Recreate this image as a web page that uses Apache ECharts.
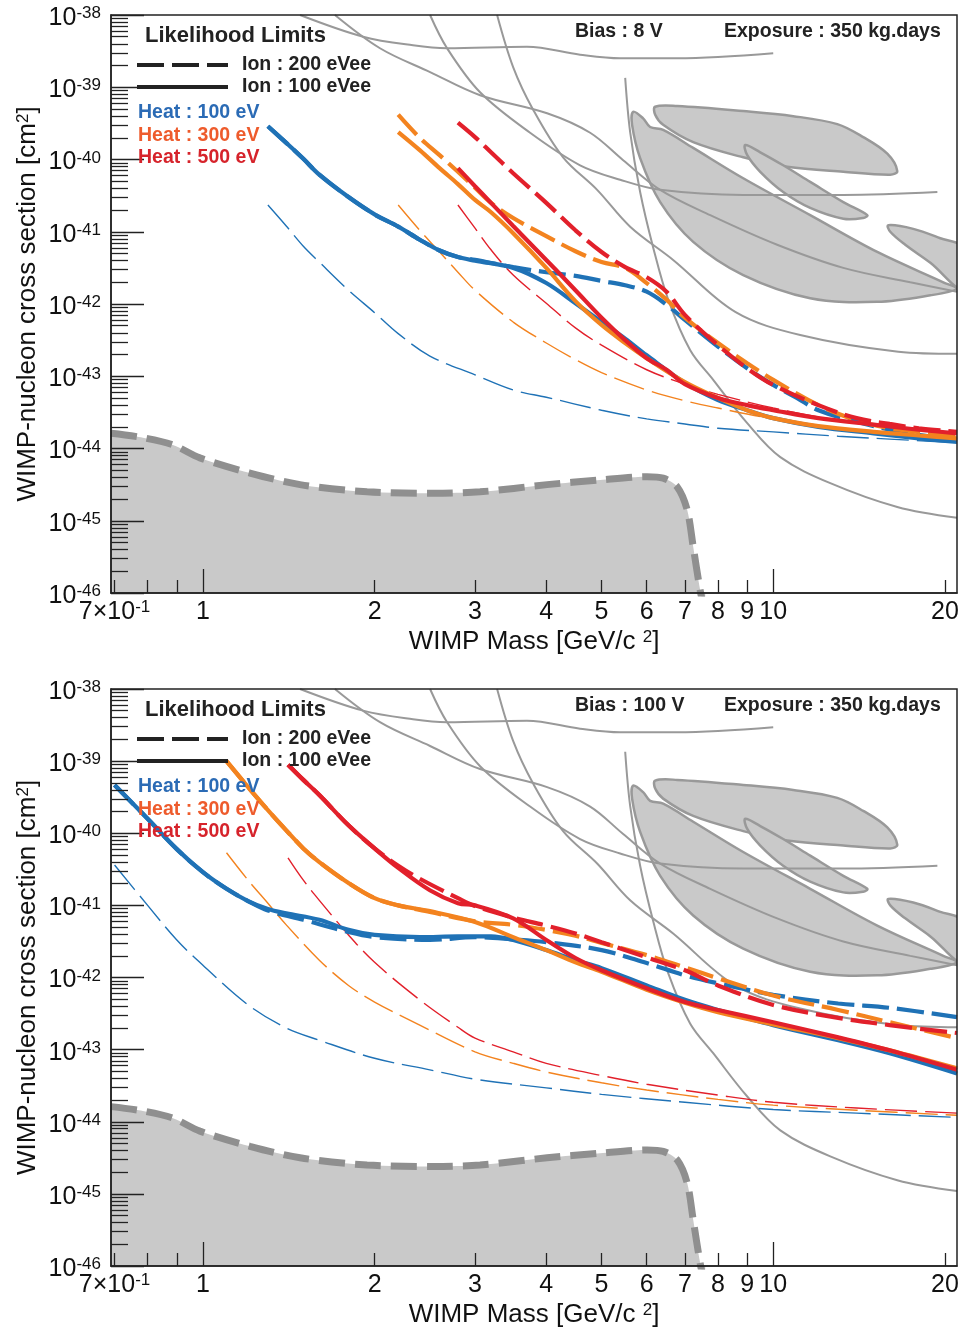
<!DOCTYPE html>
<html>
<head>
<meta charset="utf-8">
<script src="https://cdn.jsdelivr.net/npm/echarts@6/dist/echarts.min.js"></script>
<style>html,body{margin:0;padding:0;background:#fff}#chart{width:960px;height:1334px}</style>
</head>
<body>
<div id="chart"></div>
<script>
// ---------------- DATA: [WIMP mass (GeV/c^2), log10(cross section / cm^2)] ----------------
// Panel 1 : Bias 8 V
const p1Blue100 = [[1.3,-39.54],[1.4,-39.77],[1.5,-39.99],[1.6,-40.21],[1.8,-40.52],[2.0,-40.76],[2.2,-40.93],[2.4,-41.11],[2.6,-41.26],[2.8,-41.35],[3.0,-41.40],[3.5,-41.50],[4.0,-41.71],[4.5,-41.99],[5.0,-42.25],[5.5,-42.48],[6.0,-42.71],[7.0,-43.09],[8.0,-43.33],[9.0,-43.47],[10,-43.58],[12,-43.70],[15,-43.79],[18,-43.86],[21,-43.91]];
const p1Blue200 = [[1.3,-39.54],[1.4,-39.77],[1.5,-39.99],[1.6,-40.21],[1.8,-40.52],[2.0,-40.76],[2.2,-40.93],[2.4,-41.11],[2.6,-41.26],[2.8,-41.35],[3.0,-41.39],[3.5,-41.49],[4.0,-41.56],[4.5,-41.61],[5.0,-41.68],[5.5,-41.74],[6.0,-41.83],[6.5,-42.01],[7.0,-42.22],[8.0,-42.59],[9.0,-42.89],[10,-43.12],[11,-43.30],[12,-43.47],[14,-43.63],[16,-43.74],[18,-43.81],[21,-43.88]];
const p1Orange100 = [[2.2,-39.62],[2.4,-39.87],[2.6,-40.12],[2.8,-40.34],[3.0,-40.56],[3.2,-40.73],[3.5,-41.02],[4.0,-41.50],[4.5,-41.96],[5.0,-42.29],[5.5,-42.54],[6.0,-42.75],[7.0,-43.08],[8.0,-43.30],[9.0,-43.47],[10,-43.58],[12,-43.69],[15,-43.77],[18,-43.82],[21,-43.86]];
const p1Orange200 = [[2.2,-39.38],[2.4,-39.70],[2.6,-39.94],[2.8,-40.17],[3.0,-40.39],[3.2,-40.60],[3.5,-40.81],[4.0,-41.06],[4.5,-41.27],[5.0,-41.42],[5.5,-41.50],[6.0,-41.71],[6.5,-41.94],[7.0,-42.19],[8.0,-42.54],[9.0,-42.82],[10,-43.05],[12,-43.40],[14,-43.61],[16,-43.72],[18,-43.77],[21,-43.84]];
const p1Red100 = [[2.8,-40.12],[3.0,-40.37],[3.2,-40.60],[3.5,-40.92],[4.0,-41.39],[4.5,-41.81],[5.0,-42.19],[5.5,-42.50],[6.0,-42.75],[6.5,-42.91],[7.0,-43.11],[8.0,-43.30],[9.0,-43.40],[10,-43.47],[12,-43.58],[15,-43.67],[18,-43.74],[21,-43.79]];
const p1Red200 = [[2.8,-39.49],[3.0,-39.69],[3.2,-39.90],[3.5,-40.19],[4.0,-40.60],[4.5,-40.98],[5.0,-41.28],[5.5,-41.49],[6.0,-41.63],[6.5,-41.83],[7.0,-42.15],[8.0,-42.57],[9.0,-42.89],[10,-43.12],[12,-43.40],[14,-43.58],[16,-43.66],[18,-43.72],[21,-43.77]];
const p1BlueThin = [[1.3,-40.63],[1.4,-40.92],[1.5,-41.20],[1.6,-41.42],[1.8,-41.81],[2.0,-42.12],[2.2,-42.41],[2.5,-42.72],[3.0,-42.98],[3.5,-43.19],[4.0,-43.29],[5.0,-43.47],[6.0,-43.59],[7.0,-43.66],[8.0,-43.72],[10,-43.77],[13,-43.83],[16,-43.87],[21,-43.92]];
const p1OrangeThin = [[2.2,-40.63],[2.4,-40.98],[2.6,-41.28],[2.8,-41.56],[3.0,-41.81],[3.5,-42.25],[4.0,-42.54],[4.5,-42.77],[5.0,-42.95],[6.0,-43.19],[7.0,-43.34],[8.0,-43.44],[10,-43.59],[13,-43.73],[16,-43.80],[21,-43.88]];
const p1RedThin = [[2.8,-40.63],[3.0,-40.95],[3.2,-41.25],[3.5,-41.60],[4.0,-41.99],[4.5,-42.33],[5.0,-42.57],[6.0,-42.91],[7.0,-43.11],[8.0,-43.25],[10,-43.44],[13,-43.61],[16,-43.70],[21,-43.79]];

// Panel 2 : Bias 100 V
const p2Blue100 = [[0.7,-39.33],[0.8,-39.80],[0.9,-40.22],[1.0,-40.54],[1.1,-40.77],[1.2,-40.94],[1.3,-41.05],[1.4,-41.11],[1.6,-41.20],[1.8,-41.34],[2.0,-41.41],[2.4,-41.44],[2.8,-41.43],[3.2,-41.43],[3.5,-41.48],[4.0,-41.62],[4.5,-41.76],[5.0,-41.87],[6.0,-42.11],[7.0,-42.31],[8.0,-42.45],[10,-42.66],[13,-42.87],[16,-43.05],[21,-43.33]];
const p2Blue200 = [[0.7,-39.33],[0.8,-39.80],[0.9,-40.22],[1.0,-40.54],[1.1,-40.77],[1.2,-40.94],[1.3,-41.07],[1.5,-41.20],[1.8,-41.37],[2.0,-41.44],[2.5,-41.48],[3.0,-41.44],[3.5,-41.47],[4.0,-41.51],[5.0,-41.62],[6.0,-41.80],[7.0,-41.97],[8.0,-42.08],[10,-42.24],[13,-42.36],[16,-42.42],[21,-42.55]];
const p2Orange100 = [[1.1,-39.00],[1.2,-39.36],[1.3,-39.68],[1.4,-39.96],[1.5,-40.21],[1.6,-40.40],[1.8,-40.69],[2.0,-40.90],[2.2,-41.00],[2.5,-41.08],[3.0,-41.23],[3.5,-41.44],[4.0,-41.62],[4.5,-41.79],[5.0,-41.92],[6.0,-42.17],[7.0,-42.35],[8.0,-42.48],[10,-42.65],[13,-42.84],[16,-43.01],[21,-43.26]];
const p2Orange200 = [[1.1,-39.00],[1.2,-39.36],[1.3,-39.68],[1.4,-39.96],[1.5,-40.21],[1.6,-40.40],[1.8,-40.69],[2.0,-40.90],[2.2,-41.00],[2.5,-41.09],[3.0,-41.22],[3.5,-41.27],[4.0,-41.34],[4.5,-41.42],[5.0,-41.52],[6.0,-41.69],[7.0,-41.86],[8.0,-42.01],[10,-42.25],[13,-42.45],[16,-42.62],[21,-42.84]];
const p2Red100 = [[1.41,-39.05],[1.5,-39.26],[1.6,-39.47],[1.8,-39.89],[2.0,-40.21],[2.2,-40.48],[2.5,-40.79],[2.8,-40.97],[3.0,-41.00],[3.5,-41.18],[4.0,-41.48],[4.5,-41.73],[5.0,-41.90],[6.0,-42.15],[7.0,-42.34],[8.0,-42.45],[10,-42.62],[13,-42.83],[16,-43.01],[21,-43.28]];
const p2Red200 = [[1.41,-39.05],[1.5,-39.26],[1.6,-39.47],[1.8,-39.89],[2.0,-40.21],[2.2,-40.45],[2.4,-40.63],[2.8,-40.90],[3.0,-41.01],[3.5,-41.17],[4.0,-41.28],[4.5,-41.39],[5.0,-41.51],[6.0,-41.72],[7.0,-41.90],[8.0,-42.11],[10,-42.38],[13,-42.56],[16,-42.66],[21,-42.77]];
const p2BlueThin = [[0.7,-40.44],[0.8,-41.00],[0.9,-41.48],[1.0,-41.83],[1.2,-42.38],[1.4,-42.70],[1.6,-42.87],[2.0,-43.12],[2.5,-43.28],[3.0,-43.41],[4.0,-43.53],[5.0,-43.62],[7.0,-43.73],[10,-43.83],[14,-43.88],[21,-43.94]];
const p2OrangeThin = [[1.1,-40.27],[1.2,-40.65],[1.3,-40.97],[1.4,-41.27],[1.6,-41.76],[1.8,-42.11],[2.0,-42.34],[2.4,-42.66],[3.0,-43.03],[3.5,-43.19],[4.0,-43.31],[5.0,-43.46],[6.0,-43.56],[8.0,-43.69],[10,-43.77],[14,-43.84],[21,-43.91]];
const p2RedThin = [[1.41,-40.34],[1.5,-40.65],[1.6,-40.93],[1.8,-41.41],[2.0,-41.79],[2.4,-42.31],[2.8,-42.69],[3.0,-42.84],[3.5,-43.03],[4.0,-43.19],[5.0,-43.36],[6.0,-43.48],[8.0,-43.63],[10,-43.73],[14,-43.81],[21,-43.88]];

// Other experiments (grey, same in both panels)
const grayA = [[1.48,-38.0],[1.909,-38.30],[2.335,-38.42],[2.68,-38.46],[3.70,-38.44],[4.585,-38.55],[5.39,-38.60],[6.785,-38.60],[10.0,-38.53]];
const grayB = [[1.704,-38.0],[2.044,-38.46],[2.502,-38.79],[3.062,-39.11],[4.013,-39.36],[4.775,-39.63],[5.456,-40.01],[6.336,-40.42],[7.754,-40.77],[10.16,-41.18],[13.27,-41.50],[17.39,-41.70],[21.0,-41.83]];
const grayC = [[2.502,-38.0],[2.68,-38.46],[3.062,-39.07],[3.747,-39.63],[4.585,-40.08],[5.39,-40.28],[6.336,-40.42],[8.859,-40.49],[13.27,-40.49],[19.4,-40.45]];
const grayD = [[3.28,-38.0],[3.499,-38.72],[3.793,-39.31],[4.281,-39.97],[4.912,-40.42],[5.612,-40.93],[6.676,-41.39],[8.578,-42.11],[11.15,-42.43],[16.57,-42.66],[21.0,-42.69]];
const grayE = [[5.501,-38.87],[5.612,-39.62],[5.843,-40.45],[6.16,-41.22],[6.544,-41.94],[7.153,-42.64],[7.848,-43.05],[9.004,-43.65],[10.29,-44.12],[12.59,-44.48],[16.5,-44.81],[21.0,-44.96]];
const regionR1 = [[6.209,-39.27],[6.785,-39.26],[8.859,-39.33],[10.84,-39.40],[12.95,-39.51],[14.38,-39.69],[15.85,-39.92],[16.50,-40.16],[16.04,-40.21],[13.27,-40.17],[10.58,-40.10],[8.859,-39.97],[7.239,-39.76],[6.412,-39.52],[6.209,-39.38]];
const regionR2 = [[8.93,-39.80],[9.489,-39.90],[10.41,-40.08],[11.61,-40.31],[13.27,-40.59],[14.62,-40.77],[14.38,-40.81],[13.27,-40.82],[11.61,-40.67],[10.41,-40.45],[9.489,-40.17],[9.004,-39.94]];
const regionR3 = [[5.681,-39.34],[5.914,-39.43],[6.084,-39.55],[6.412,-39.59],[7.239,-39.84],[8.859,-40.26],[11.61,-40.77],[15.22,-41.28],[19.87,-41.70],[21.0,-41.79],[18.86,-41.88],[15.22,-41.97],[11.61,-41.92],[8.859,-41.60],[7.239,-41.14],[6.336,-40.59],[5.843,-39.98],[5.656,-39.52]];
const regionR4 = [[15.91,-40.91],[17.60,-40.96],[19.63,-41.09],[21.5,-41.22],[21.5,-41.80],[18.86,-41.43],[17.04,-41.18],[16.04,-41.00]];
const floorBoundary = [[0.69,-43.79],[0.785,-43.85],[0.886,-43.95],[0.988,-44.13],[1.209,-44.34],[1.48,-44.50],[1.94,-44.60],[2.532,-44.62],[3.062,-44.60],[4.013,-44.50],[4.912,-44.44],[6.01,-44.39],[6.412,-44.41],[6.785,-44.53],[7.066,-44.85],[7.239,-45.36],[7.445,-45.96],[7.6,-46.3]];

// Axis ticks / labels
const xLabelValues = [0.7, 1, 2, 3, 4, 5, 6, 7, 8, 9, 10, 20];
const xMajorTicks = [1, 10];
const xMinorTicks = [0.7, 0.8, 0.9, 2, 3, 4, 5, 6, 7, 8, 9, 20];
const yDecadeExps = [-46, -45, -44, -43, -42, -41, -40, -39, -38];
const yMinorMults = [2, 3, 4, 5, 6, 7, 8, 9];
const biasTexts = ['Bias : 8 V', 'Bias : 100 V'];
const exposureText = 'Exposure : 350 kg.days';
const legendIon = ['Ion : 200 eVee', 'Ion : 100 eVee'];
const legendHeat = ['Heat : 100 eV', 'Heat : 300 eV', 'Heat : 500 eV'];

// ---------------- BUILD ----------------
const FONT = '"Liberation Sans", Arial, Helvetica, sans-serif';
const C_BLUE = '#1f72b6', C_ORANGE = '#f3831f', C_RED = '#e2202b', C_GRAY = '#999999';
const TXT_BLUE = '#2b6bb5', TXT_ORANGE = '#ee5b2c', TXT_RED = '#d6232b';
const X_MIN = 0.69, X_MAX = 21.0;
const Y_MIN = -46, Y_MAX = -38;   // y axis in log10(sigma)
const yMinorValues = [];
yDecadeExps.slice(0, -1).forEach(e => yMinorMults.forEach(k => yMinorValues.push(e + Math.log10(k))));

const grids = [
  { left: 111, top: 15, width: 846, height: 578 },
  { left: 111, top: 689, width: 846, height: 577 }
].map(g => Object.assign(g, { show: true, z: 10, borderColor: '#222', borderWidth: 1.5, backgroundColor: 'transparent', containLabel: false, outerBoundsMode: 'none' }));

const xAxes = [], yAxes = [];
const tickLine = { color: '#222', width: 1.3 };
const nameRich = {
  t: { fontSize: 26, fontFamily: FONT, color: '#111', lineHeight: 26 },
  s: { fontSize: 17, fontFamily: FONT, color: '#111', lineHeight: 15, verticalAlign: 'top' }
};
const labelRich = {
  b: { fontSize: 25, fontFamily: FONT, color: '#111', lineHeight: 26 },
  s: { fontSize: 17, fontFamily: FONT, color: '#111', lineHeight: 15, verticalAlign: 'top' }
};
[0, 1].forEach(gi => {
  xAxes.push({
    type: 'log', logBase: 10, gridIndex: gi, min: X_MIN, max: X_MAX, position: 'bottom', z: 10,
    name: '{t|WIMP Mass [GeV/c }{s|2}{t|]}', nameLocation: 'middle', nameGap: 36, nameMoveOverlap: false,
    nameTextStyle: { rich: nameRich },
    axisLine: { show: true, lineStyle: { color: '#222', width: 1.5 } },
    axisTick: { show: true, inside: true, length: 24, customValues: xMajorTicks, lineStyle: tickLine },
    axisLabel: { show: true, margin: 6, customValues: xLabelValues, hideOverlap: false,
      formatter: v => Math.abs(v - 0.7) < 1e-6 ? '{b|7×10}{s|-1}' : '{b|' + Math.round(v) + '}',
      rich: labelRich },
    splitLine: { show: false }, minorTick: { show: false }
  });
  xAxes.push({
    type: 'log', logBase: 10, gridIndex: gi, min: X_MIN, max: X_MAX, position: 'bottom', z: 10,
    axisLine: { show: false }, axisLabel: { show: false }, splitLine: { show: false },
    axisTick: { show: true, inside: true, length: 13, customValues: xMinorTicks, lineStyle: tickLine }
  });
  yAxes.push({
    type: 'value', gridIndex: gi, min: Y_MIN, max: Y_MAX, position: 'left', z: 10,
    name: '{t|WIMP-nucleon cross section [cm}{s|2}{t|]}', nameLocation: 'middle', nameGap: 70, nameRotate: 90, nameMoveOverlap: false,
    nameTextStyle: { rich: nameRich },
    axisLine: { show: true, lineStyle: { color: '#222', width: 1.5 } },
    axisTick: { show: true, inside: true, length: 33, customValues: yDecadeExps, lineStyle: tickLine },
    axisLabel: { show: true, margin: 10, customValues: yDecadeExps, hideOverlap: false, padding: [6, 0, 0, 0],
      formatter: v => '{b|10}{s|' + Math.round(v) + '}',
      rich: labelRich },
    splitLine: { show: false }, minorTick: { show: false }
  });
  yAxes.push({
    type: 'value', gridIndex: gi, min: Y_MIN, max: Y_MAX, position: 'left', z: 10,
    axisLine: { show: false }, axisLabel: { show: false }, splitLine: { show: false },
    axisTick: { show: true, inside: true, length: 17, customValues: yMinorValues, lineStyle: tickLine }
  });
});

const regions = [regionR1, regionR2, regionR3, regionR4];
const grays = [grayA, grayB, grayC, grayD, grayE];
const panels = [
  { blue: [p1Blue100, p1Blue200, p1BlueThin], orange: [p1Orange100, p1Orange200, p1OrangeThin], red: [p1Red100, p1Red200, p1RedThin] },
  { blue: [p2Blue100, p2Blue200, p2BlueThin], orange: [p2Orange100, p2Orange200, p2OrangeThin], red: [p2Red100, p2Red200, p2RedThin] }
];

const series = [];
panels.forEach((pd, gi) => {
  const ax = { xAxisIndex: gi * 2, yAxisIndex: gi * 2 };
  series.push(Object.assign({
    type: 'custom', clip: true, silent: true, z: 1,
    data: regions.map((r, i) => [r[0][0], r[0][1], i]),
    encode: { x: 0, y: 1 },
    renderItem: (params, api) => {
      const r = regions[api.value(2)];
      const pts = r.map(p => api.coord(p));
      return { type: 'polygon', shape: { points: pts, smooth: 0.35 },
        style: { fill: '#c9c9c9', stroke: '#999999', lineWidth: 2.5 } };
    }
  }, ax));
  grays.forEach(g => series.push(Object.assign({
    type: 'line', data: g, smooth: 0.35, showSymbol: false, silent: true, z: 2,
    lineStyle: { color: C_GRAY, width: 2 }
  }, ax)));
  series.push(Object.assign({
    type: 'line', data: floorBoundary, smooth: 0.3, showSymbol: false, silent: true, z: 2,
    lineStyle: { color: '#8f8f8f', width: 7, type: [26, 10] },
    areaStyle: { color: '#c9c9c9', opacity: 1, origin: 'start' }
  }, ax));
  [[pd.blue[2], C_BLUE], [pd.orange[2], C_ORANGE], [pd.red[2], C_RED]].forEach(([d, c]) =>
    series.push(Object.assign({
      type: 'line', data: d, smooth: 0.35, showSymbol: false, silent: true, z: 3,
      lineStyle: { color: c, width: 1.4, type: [32, 8] }
    }, ax)));
  [[pd.blue, C_BLUE], [pd.orange, C_ORANGE], [pd.red, C_RED]].forEach(([arr, c], k) => {
    series.push(Object.assign({
      type: 'line', data: arr[1], smooth: 0.35, showSymbol: false, silent: true, z: 4 + k,
      lineStyle: { color: c, width: 4.2, type: [27, 8] }
    }, ax));
    series.push(Object.assign({
      type: 'line', data: arr[0], smooth: 0.35, showSymbol: false, silent: true, z: 4 + k,
      lineStyle: { color: c, width: 4.2 }
    }, ax));
  });
});

const graphics = [];
[0, 674].forEach((dy, i) => {
  const t = (x, y, text, size, color) => graphics.push({
    type: 'text', x: x, y: y + dy, z: 100, silent: true,
    style: { text: text, font: 'bold ' + size + 'px ' + FONT, fill: color,
      textAlign: 'left', align: 'left', textVerticalAlign: 'middle', verticalAlign: 'middle' }
  });
  t(145, 36, 'Likelihood Limits', 22, '#222');
  t(575, 32, biasTexts[i], 19.5, '#222');
  t(724, 32, exposureText, 19.5, '#222');
  t(242, 65, legendIon[0], 19.5, '#222');
  t(242, 87, legendIon[1], 19.5, '#222');
  t(138, 113, legendHeat[0], 19.5, TXT_BLUE);
  t(138, 136, legendHeat[1], 19.5, TXT_ORANGE);
  t(138, 158, legendHeat[2], 19.5, TXT_RED);
  graphics.push({ type: 'line', z: 100, silent: true, shape: { x1: 137, y1: 65 + dy, x2: 228, y2: 65 + dy },
    style: { stroke: '#222', lineWidth: 4, lineDash: [27, 8] } });
  graphics.push({ type: 'line', z: 100, silent: true, shape: { x1: 137, y1: 87 + dy, x2: 228, y2: 87 + dy },
    style: { stroke: '#222', lineWidth: 4 } });
});

const chart = echarts.init(document.getElementById('chart'), null, { renderer: 'canvas' });
chart.setOption({
  backgroundColor: '#ffffff',
  animation: false,
  textStyle: { fontFamily: FONT },
  grid: grids,
  xAxis: xAxes,
  yAxis: yAxes,
  series: series,
  graphic: graphics
});
</script>
</body>
</html>
